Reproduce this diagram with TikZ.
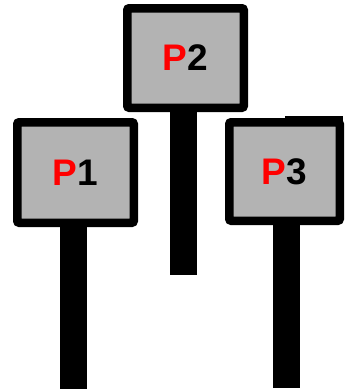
\documentclass[tikz,border=0pt]{standalone}
\usepackage{fontspec}
\setmainfont{Liberation Sans}
\definecolor{signgray}{RGB}{179,179,179}
\definecolor{signred}{RGB}{255,0,0}
\begin{document}
\begin{tikzpicture}[x=1pt,y=-1pt,
  sign/.style={draw=black,fill=signgray,line width=8.5pt,rounded corners=2pt,
    inner sep=0pt,font=\fontsize{37}{40}\selectfont\bfseries},
  post/.style={fill=black}]
\useasboundingbox (0,0) rectangle (345,389);
% posts
\fill[post] (60,200) rectangle (87,388.5);
\fill[post] (170,90) rectangle (197,275);
\fill[post] (273,200) rectangle (299.5,387.5);
% signs
\node[sign,minimum width=116.5pt,minimum height=100.5pt] (p1) at (75.5,172.5)
  {\textcolor{signred}{P}1};
\node[sign,minimum width=116.5pt,minimum height=99.5pt] (p2) at (185.5,58)
  {\textcolor{signred}{P}2};
\node[sign,minimum width=110.5pt,minimum height=98.5pt] (p3) at (284.5,171.5)
  {\textcolor{signred}{P}3};
\fill[black] (285,116) rectangle (343,121);
\end{tikzpicture}
\end{document}
